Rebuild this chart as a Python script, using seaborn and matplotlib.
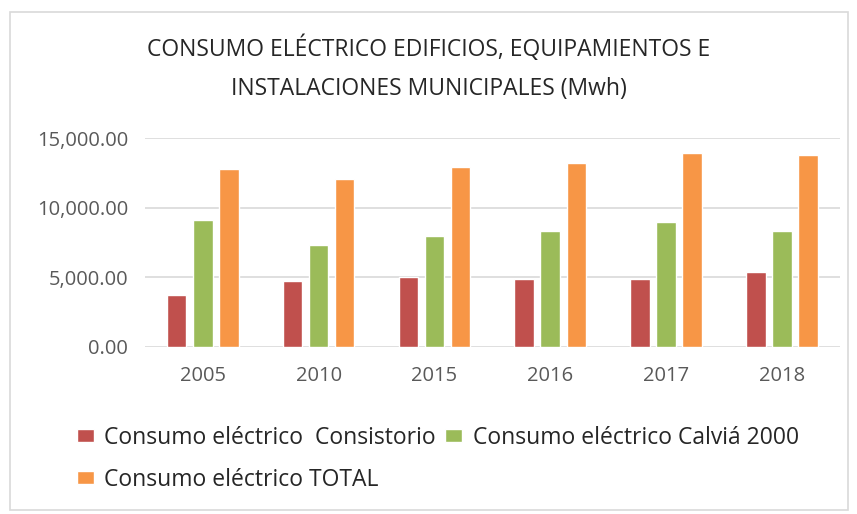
import matplotlib
matplotlib.use("Agg")
import matplotlib.pyplot as plt
import matplotlib.patches as mpatches
import matplotlib.ticker as mticker
import seaborn as sns
import pandas as pd

years = ["2005", "2010", "2015", "2016", "2017", "2018"]
series_names = ["Consumo eléctrico  Consistorio", "Consumo eléctrico Calviá 2000", "Consumo eléctrico TOTAL"]
consistorio = [3720, 4730, 5000, 4850, 4900, 5360]
calvia2000 = [9130, 7300, 7950, 8330, 9000, 8360]
total = [12780, 12060, 12950, 13180, 13900, 13760]
colors = ["#C0504D", "#9BBB59", "#F79646"]
title = "CONSUMO ELÉCTRICO EDIFICIOS, EQUIPAMIENTOS E\nINSTALACIONES MUNICIPALES (Mwh)"

rows = []
for name, vals in zip(series_names, [consistorio, calvia2000, total]):
    for y, v in zip(years, vals):
        rows.append({"year": y, "series": name, "value": v})
df = pd.DataFrame(rows)

sns.set_theme(style="white")
plt.rcParams["font.family"] = ["Open Sans", "DejaVu Sans"]

fig = plt.figure(figsize=(8.57, 5.14), dpi=100)
ax = fig.add_axes([0.169, 0.325, 0.811, 0.4065])

sns.barplot(data=df, x="year", y="value", hue="series", palette=colors,
            order=years, hue_order=series_names, width=0.675, gap=0.25,
            saturation=1, ax=ax, legend=True)

ax.set_ylim(0, 15000)
ax.set_xlim(-0.5, 5.5)
ax.yaxis.set_major_locator(mticker.MultipleLocator(5000))
ax.yaxis.set_major_formatter(mticker.FuncFormatter(lambda v, p: f"{v:,.2f}"))
ax.grid(axis="y", color="#d9d9d9", linewidth=1.2)
ax.set_axisbelow(True)
for s in ax.spines.values():
    s.set_visible(False)
ax.tick_params(axis="both", length=0, labelsize=14.5, colors="#595959")
ax.tick_params(axis="x", pad=14)
ax.tick_params(axis="y", pad=12)
ax.set_xlabel("")
ax.set_ylabel("")

handles, labels = ax.get_legend_handles_labels()
ax.get_legend().remove()
order = [0, 2, 1]
fig.legend([handles[i] for i in order], [labels[i] for i in order],
           loc="upper left", bbox_to_anchor=(0.0898, 0.172), ncol=2,
           frameon=False, fontsize=16.5, handlelength=0.75, handleheight=0.55,
           handletextpad=0.45, columnspacing=0.4, labelspacing=0.79,
           borderaxespad=0, borderpad=0, labelcolor="#262626")

fig.text(0.5, 0.868, title, ha="center", va="center", fontsize=16.5,
         color="#262626", linespacing=1.83)

fig.patches.append(mpatches.Rectangle((0.012, 0.008), 0.978, 0.968,
                                      transform=fig.transFigure, fill=False,
                                      edgecolor="#d9d9d9", linewidth=1.2))

fig.savefig("out.png", dpi=100)
